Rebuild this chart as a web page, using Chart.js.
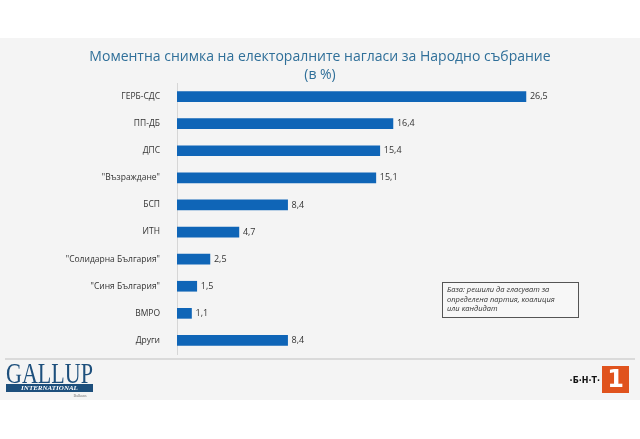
<!DOCTYPE html>
<html>
<head>
  <meta charset="utf-8">
  <title>Моментна снимка</title>
  <script src="https://cdn.jsdelivr.net/npm/chart.js"></script>
  <style>
    html, body { margin: 0; padding: 0; background: #fff; }
    #wrap { width: 640px; height: 439px; }
  </style>
</head>
<body>
  <div id="wrap"><canvas id="myChart" width="640" height="439"></canvas></div>
  <script>
    const parties = ['ГЕРБ-СДС', 'ПП-ДБ', 'ДПС', '"Възраждане"', 'БСП', 'ИТН', '"Солидарна България"', '"Синя България"', 'ВМРО', 'Други'];
    const shares = [26.5, 16.4, 15.4, 15.1, 8.4, 4.7, 2.5, 1.5, 1.1, 8.4];
    const titleLines = ['Моментна снимка на електоралните нагласи за Народно събрание', '(в %)'];
    const noteLines = ['База: решили да гласуват за', 'определена партия, коалиция', 'или кандидат'];

    const BAR = '#0f65b7';

    // gray panel, title, note box, footer logos
    const decor = {
      id: 'decor',
      beforeDraw(chart) {
        const c = chart.ctx;
        c.save();
        c.fillStyle = '#f4f4f4';
        c.fillRect(0, 38, 640, 362);
        c.fillStyle = '#2f6f99';
        c.textAlign = 'center';
        c.textBaseline = 'middle';
        c.font = '14px "Open Sans"';
        c.fillText(titleLines[0], 320, 57);
        c.fillText(titleLines[1], 320, 75);
        c.restore();
      },
      afterDraw(chart) {
        const c = chart.ctx;
        c.save();
        // note box
        c.fillStyle = '#f7f7f7';
        c.fillRect(442, 282, 136, 35);
        c.strokeStyle = '#555';
        c.lineWidth = 1;
        c.strokeRect(442.5, 282.5, 136, 35);
        c.fillStyle = '#333';
        c.font = 'italic 7.5px "Open Sans"';
        c.textAlign = 'left';
        c.textBaseline = 'middle';
        noteLines.forEach((t, i) => c.fillText(t, 447, 290 + i * 9.5));
        // separator
        c.strokeStyle = '#d2d2d2';
        c.lineWidth = 1.5;
        c.beginPath();
        c.moveTo(5, 359);
        c.lineTo(635, 359);
        c.stroke();
        // gallup
        c.fillStyle = '#1d4f7c';
        c.font = '30px "Liberation Serif"';
        const w = c.measureText('GALLUP').width;
        c.save();
        c.translate(6, 383);
        c.scale(87 / w, 1);
        c.textBaseline = 'alphabetic';
        c.fillText('GALLUP', 0, 0);
        c.restore();
        c.fillRect(6, 384, 87, 8);
        c.fillStyle = '#fff';
        c.font = 'italic bold 7px "Liberation Serif"';
        c.textAlign = 'center';
        c.fillText('INTERNATIONAL', 49.5, 388.5);
        c.fillStyle = '#777';
        c.font = '4px "Liberation Serif"';
        c.fillText('Balkans', 80, 396);
        // bnt
        c.fillStyle = '#111';
        c.font = 'bold 8px "DejaVu Sans"';
        c.textAlign = 'right';
        c.fillText('·Б·Н·Т·', 600, 381);
        c.fillStyle = '#e0531d';
        c.fillRect(602, 366, 27, 27);
        c.fillStyle = '#fff';
        c.font = 'bold 24px "DejaVu Sans"';
        c.textAlign = 'center';
        c.fillText('1', 615.5, 380.5);
        c.restore();
      },
      afterDatasetsDraw(chart) {
        const c = chart.ctx;
        const meta = chart.getDatasetMeta(0);
        c.save();
        c.fillStyle = '#333';
        c.font = '9px "Open Sans"';
        c.textAlign = 'left';
        c.textBaseline = 'middle';
        meta.data.forEach((bar, i) => {
          c.fillText(shares[i].toFixed(1).replace('.', ','), bar.x + 4, bar.y);
        });
        c.restore();
      }
    };

    const chartConfig = {
      type: 'bar',
      data: {
        labels: parties,
        datasets: [{
          data: shares,
          backgroundColor: BAR,
          barThickness: 10
        }]
      },
      options: {
        indexAxis: 'y',
        responsive: false,
        animation: false,
        layout: { padding: { top: 83, bottom: 85, left: 0, right: 68 } },
        plugins: {
          legend: { display: false },
          tooltip: { enabled: false }
        },
        scales: {
          x: {
            display: false,
            min: 0,
            max: 30
          },
          y: {
            afterFit(scale) { scale.width = 177; },
            grid: { display: false },
            border: { display: true, color: '#d6d6d6', width: 1 },
            ticks: {
              padding: 9,
              color: '#333',
              font: { family: '"Open Sans"', size: 8.5 }
            }
          }
        }
      },
      plugins: [decor]
    };
    const myChart = new Chart(document.getElementById('myChart'), chartConfig);
  </script>
</body>
</html>
